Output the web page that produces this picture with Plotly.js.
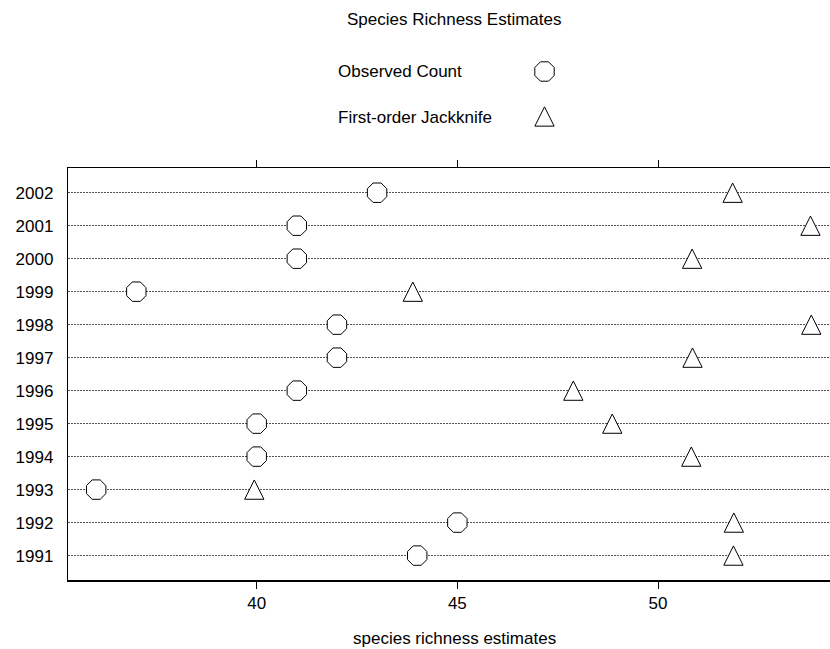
<!DOCTYPE html>
<html><head><meta charset="utf-8">
<script src="https://cdn.plot.ly/plotly-3.0.1.min.js"></script>
<style>html,body{margin:0;padding:0;overflow:hidden;background:#fff}#chart{width:842px;height:649px}</style>
</head><body><div id="chart"></div>
<script>
// ---- data ----
const years = [1991, 1992, 1993, 1994, 1995, 1996, 1997, 1998, 1999, 2000, 2001, 2002];
const observedCount = [44, 45, 36, 40, 40, 41, 42, 42, 37, 41, 41, 43];
const jackknife = [51.88, 51.89, 39.94, 50.83, 48.86, 47.89, 50.86, 53.82, 43.89, 50.85, 53.8, 51.86];
const seriesNames = ['Observed Count', 'First-order Jackknife'];
const legendIndex = [0, 1];
const xTickVals = [40, 45, 50];
const chartTitle = 'Species Richness Estimates';
const xAxisTitle = 'species richness estimates';

// ---- layout geometry (pixels) ----
const W = 842, H = 649;
const plotL = 67.8, plotR = 841.2, plotT = 168.3, plotB = 580;
const pxPerUnitX = 40.13, x40px = 256.7;
const xRange = [40 - (x40px - plotL) / pxPerUnitX, 40 + (plotR - x40px) / pxPerUnitX];
const yRange = [1990.26, 2002.74];
const triSize = 19.3, octSize = 21;
const pxPerUnitY = (plotB - plotT) / (yRange[1] - yRange[0]);
const triShift = (triSize / 2) / pxPerUnitY;
const FONT = 'Liberation Sans, Arial, Helvetica, sans-serif';
const FS = 17;

// legend area
const legT = 49, legB = 139, legCx = 544.5, legTextX = 336;
const legRange = [1.5, -0.5];
const legShift = (triSize / 2) / ((legB - legT) / 2);

const fx = p => p / W;
const fy = p => 1 - p / H;

const traces = [
  { type: 'scatter', mode: 'markers', name: seriesNames[0], x: observedCount, y: years,
    xaxis: 'x', yaxis: 'y', showlegend: false, hoverinfo: 'skip',
    marker: { symbol: 'octagon', size: octSize, color: '#ffffff', line: { color: '#000', width: 1 } } },
  { type: 'scatter', mode: 'markers', name: seriesNames[1], x: jackknife, y: years,
    xaxis: 'x', yaxis: 'y3', showlegend: false, hoverinfo: 'skip',
    marker: { symbol: 'arrow-up', size: triSize, color: '#ffffff', line: { color: '#000', width: 1 } } },
  // custom legend markers
  { type: 'scatter', mode: 'markers', x: [0], y: [legendIndex[0]], xaxis: 'x2', yaxis: 'y2',
    showlegend: false, hoverinfo: 'skip',
    marker: { symbol: 'octagon', size: octSize, color: '#ffffff', line: { color: '#000', width: 1 } } },
  { type: 'scatter', mode: 'markers', x: [0], y: [legendIndex[1]], xaxis: 'x2', yaxis: 'y4',
    showlegend: false, hoverinfo: 'skip',
    marker: { symbol: 'arrow-up', size: triSize, color: '#ffffff', line: { color: '#000', width: 1 } } }
];

const layout = {
  width: W, height: H,
  margin: { l: 0, r: 0, t: 0, b: 0, pad: 0 },
  paper_bgcolor: '#fff', plot_bgcolor: 'rgba(0,0,0,0)',
  font: { family: FONT, size: FS, color: '#000' },
  showlegend: false,
  xaxis: {
    domain: [fx(plotL), fx(plotR)], range: xRange, tickmode: 'array', tickvals: xTickVals,
    ticks: 'outside', ticklen: 7, tickwidth: 1, tickcolor: '#000',
    showline: true, linecolor: '#000', linewidth: 1.5, mirror: 'ticks',
    showgrid: false, zeroline: false, fixedrange: true,
    tickfont: { family: FONT, size: FS, color: '#000' }
  },
  yaxis: {
    domain: [fy(plotB), fy(plotT)], range: yRange, tickmode: 'array', tickvals: years,
    ticktext: years.map(String), ticks: '', ticklabelstandoff: 10,
    showline: true, linecolor: '#000', linewidth: 1, mirror: false,
    showgrid: true, gridcolor: '#555', gridwidth: 1, griddash: '2px,1px',
    zeroline: false, fixedrange: true,
    tickfont: { family: FONT, size: FS, color: '#000' }
  },
  yaxis3: {
    overlaying: 'y', range: [yRange[0] - triShift, yRange[1] - triShift],
    visible: false, fixedrange: true
  },
  xaxis2: {
    domain: [fx(legCx - 20), fx(legCx + 20)], range: [-1, 1], visible: false, fixedrange: true, anchor: 'y2'
  },
  yaxis2: {
    domain: [fy(legB), fy(legT)], range: legRange, visible: false, fixedrange: true, anchor: 'x2'
  },
  yaxis4: {
    overlaying: 'y2', range: [legRange[0] + legShift, legRange[1] + legShift], visible: false, fixedrange: true
  },
  annotations: [
    { text: chartTitle, xref: 'paper', yref: 'paper', x: fx((plotL + plotR) / 2), y: fy(20),
      xanchor: 'center', yanchor: 'middle', showarrow: false, font: { family: FONT, size: FS, color: '#000' } },
    { text: xAxisTitle, xref: 'paper', yref: 'paper', x: fx((plotL + plotR) / 2), y: fy(638),
      xanchor: 'center', yanchor: 'middle', showarrow: false, font: { family: FONT, size: FS, color: '#000' } },
    { text: seriesNames[0], xref: 'paper', yref: 'paper', x: fx(legTextX), y: fy(71.5),
      xanchor: 'left', yanchor: 'middle', showarrow: false, font: { family: FONT, size: FS, color: '#000' } },
    { text: seriesNames[1], xref: 'paper', yref: 'paper', x: fx(legTextX), y: fy(117.5),
      xanchor: 'left', yanchor: 'middle', showarrow: false, font: { family: FONT, size: FS, color: '#000' } }
  ]
};

Plotly.newPlot('chart', traces, layout, { displayModeBar: false, staticPlot: true });
</script>
</body></html>
